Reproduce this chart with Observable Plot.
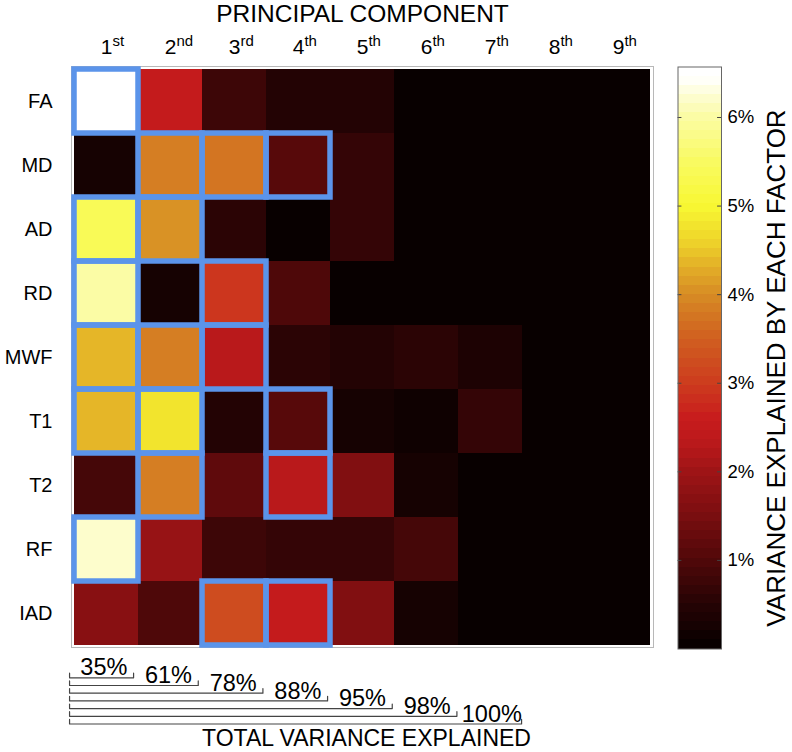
<!DOCTYPE html>
<html>
<head>
<meta charset="utf-8">
<script src="https://cdn.jsdelivr.net/npm/d3@7"></script>
<script src="https://cdn.jsdelivr.net/npm/@observablehq/plot@0.6"></script>
<style>
  body { margin: 0; background: #fff; }
  #wrap { position: relative; width: 792px; height: 752px; background: #fff; overflow: hidden; }
  #wrap svg { position: absolute; }
</style>
</head>
<body>
<div id="wrap"></div>
<script>
// ---- data ----
const PCS = ["1st", "2nd", "3rd", "4th", "5th", "6th", "7th", "8th", "9th"];
const PC_NUM = ["1", "2", "3", "4", "5", "6", "7", "8", "9"];
const PC_SUP = ["st", "nd", "rd", "th", "th", "th", "th", "th", "th"];
const FACTORS = ["FA", "MD", "AD", "RD", "MWF", "T1", "T2", "RF", "IAD"];

// variance explained (%) by each factor on each principal component
const FA_V  = [6.57, 2.50, 0.80, 0.47, 0.50, 0.06, 0.05, 0.04, 0.04];
const MD_V  = [0.25, 3.85, 3.75, 1.05, 0.65, 0.08, 0.05, 0.04, 0.04];
const AD_V  = [5.40, 4.05, 0.60, 0.07, 0.62, 0.06, 0.05, 0.04, 0.04];
const RD_V  = [6.05, 0.22, 2.90, 1.00, 0.03, 0.10, 0.06, 0.04, 0.04];
const MWF_V = [4.35, 3.80, 2.35, 0.60, 0.45, 0.55, 0.40, 0.05, 0.04];
const T1_V  = [4.35, 4.75, 0.42, 1.10, 0.30, 0.18, 0.62, 0.05, 0.04];
const T2_V  = [0.85, 3.90, 1.20, 2.30, 1.60, 0.28, 0.10, 0.04, 0.04];
const RF_V  = [6.25, 1.85, 0.80, 0.70, 0.65, 0.88, 0.08, 0.04, 0.04];
const IAD_V = [1.70, 1.00, 3.20, 2.55, 1.55, 0.25, 0.05, 0.04, 0.04];
const ROWS = [FA_V, MD_V, AD_V, RD_V, MWF_V, T1_V, T2_V, RF_V, IAD_V];

// cells outlined in blue
const HIGHLIGHT = [
  ["FA", "1st"],
  ["MD", "2nd"], ["MD", "3rd"], ["MD", "4th"],
  ["AD", "1st"], ["AD", "2nd"],
  ["RD", "1st"], ["RD", "3rd"],
  ["MWF", "1st"], ["MWF", "2nd"], ["MWF", "3rd"],
  ["T1", "1st"], ["T1", "2nd"], ["T1", "4th"],
  ["T2", "2nd"], ["T2", "4th"],
  ["RF", "1st"],
  ["IAD", "3rd"], ["IAD", "4th"]
];

// cumulative total variance explained
const CUMULATIVE = [35, 61, 78, 88, 95, 98, 100];

// colour bar
const VMAX = 6.57;
const CB_TICKS = [1, 2, 3, 4, 5, 6];
const N_LEVELS = 64;

// ---- colour map ("hot", as it appears in the figure) ----
const STOP_V = [0, 0.5, 1, 1.5, 2, 2.3, 2.6, 3, 3.5, 4, 4.3, 4.6, 5, 5.5, 6, 6.25, 6.45];
const STOP_C = ["#050000", "#260304", "#500809", "#7a0e10", "#9e1416", "#b9191b", "#c81c1d",
  "#cd3c1e", "#d05f20", "#d78c24", "#e2ae28", "#eed52a", "#f8f832", "#f9fa62", "#fbfca4", "#fdfdd4", "#ffffff"];
const cmap = d3.scaleLinear().domain(STOP_V).range(STOP_C).clamp(true);
const hotInterp = (t) => {
  const q = Math.min(N_LEVELS - 1, Math.max(0, Math.floor(t * N_LEVELS)));
  return cmap(((q + 0.5) / N_LEVELS) * VMAX);
};
const colorScale = { type: "linear", domain: [0, VMAX], interpolate: hotInterp };

// ---- tables ----
const cells = [];
FACTORS.forEach((f, i) => PCS.forEach((p, j) => cells.push({ factor: f, pc: p, value: ROWS[i][j] })));
const boxes = HIGHLIGHT.map(([f, p]) => ({ factor: f, pc: p }));
const bands = d3.range(N_LEVELS).map(i => ({
  lo: (i * VMAX) / N_LEVELS, hi: ((i + 1) * VMAX) / N_LEVELS, mid: ((i + 0.5) * VMAX) / N_LEVELS
}));
const brackets = [];
CUMULATIVE.forEach((c, i) => {
  const k = i + 1;
  brackets.push({ k, x: -0.03, y: k - 0.6 }, { k, x: -0.03, y: k }, { k, x: k - 0.04, y: k }, { k, x: k - 0.04, y: k - 0.6 });
});
const cumLabels = CUMULATIVE.map((c, i) => ({ k: i + 1, text: `${c}%` }));

const FONT = "'Liberation Sans', Arial, Helvetica, sans-serif";
const baseStyle = { background: "transparent", fontFamily: FONT, overflow: "visible", color: "#000" };
const wrap = document.getElementById("wrap");

// ---- main heat map ----
const main = Plot.plot({
  width: 792, height: 650,
  marginTop: 66, marginBottom: 3, marginLeft: 71, marginRight: 139,
  style: baseStyle,
  x: { domain: PCS, padding: 0, axis: null },
  y: { domain: FACTORS, padding: 0, axis: null },
  color: colorScale,
  marks: [
    Plot.cell(cells, { x: "pc", y: "factor", fill: "value", inset: 0, shapeRendering: "crispEdges" }),
    Plot.frame({ stroke: "#b8b8b8", strokeWidth: 1 }),
    Plot.cell(boxes, { x: "pc", y: "factor", fill: "none", stroke: "#5b94ea", strokeWidth: 5.5 }),
    Plot.text(PCS, { x: d => d, text: (d, i) => PC_NUM[i], frameAnchor: "top", lineAnchor: "bottom", dy: -12.5, fontSize: 21 }),
    Plot.text(PCS, { x: d => d, text: (d, i) => PC_SUP[i], frameAnchor: "top", lineAnchor: "bottom", textAnchor: "start", dx: 5.9, dy: -21, fontSize: 15 }),
    Plot.text(FACTORS, { y: d => d, text: d => d, frameAnchor: "left", textAnchor: "end", dx: -19, fontSize: 20 }),
    Plot.text(["PRINCIPAL COMPONENT"], { frameAnchor: "top", lineAnchor: "bottom", dy: -45, fontSize: 24.5 })
  ]
});
main.style.left = "0px"; main.style.top = "0px";
wrap.appendChild(main);

// ---- colour bar ----
const cbar = Plot.plot({
  width: 152, height: 752,
  marginTop: 66.5, marginBottom: 103.5, marginLeft: 37.5, marginRight: 71,
  style: baseStyle,
  x: { domain: [0, 1], axis: null },
  y: { domain: [0, VMAX], axis: null },
  color: colorScale,
  marks: [
    Plot.rect(bands, { y1: "lo", y2: "hi", fill: "mid", shapeRendering: "crispEdges" }),
    Plot.ruleY(CB_TICKS, { x1: 0, x2: 0.09, stroke: "#444", strokeWidth: 1 }),
    Plot.ruleY(CB_TICKS, { x1: 0.91, x2: 1, stroke: "#444", strokeWidth: 1 }),
    Plot.frame({ stroke: "#666", strokeWidth: 1 }),
    Plot.text(CB_TICKS, { y: d => d, text: d => `${d}%`, frameAnchor: "right", textAnchor: "start", dx: 6, fontSize: 18.5 }),
    Plot.text(["VARIANCE EXPLAINED BY EACH FACTOR"], { frameAnchor: "right", textAnchor: "middle", lineAnchor: "middle", rotate: -90, dx: 55, dy: 10, fontSize: 26 })
  ]
});
cbar.style.left = "640px"; cbar.style.top = "0px";
wrap.appendChild(cbar);

// ---- cumulative variance brackets ----
const brk = Plot.plot({
  width: 792, height: 105,
  marginTop: 30.3, marginBottom: 28.5, marginLeft: 71, marginRight: 139,
  style: baseStyle,
  x: { domain: [0, PCS.length], axis: null },
  y: { domain: [1, CUMULATIVE.length], reverse: true, axis: null },
  marks: [
    Plot.line(brackets, { x: "x", y: "y", z: "k", stroke: "#444", strokeWidth: 1.2, curve: "linear" }),
    Plot.text(cumLabels, { x: d => d.k - 0.5, y: d => d.k - 0.3, text: "text", lineAnchor: "bottom", fontSize: 23.5 }),
    Plot.text(["TOTAL VARIANCE EXPLAINED"], { frameAnchor: "bottom", lineAnchor: "bottom", dx: 4, dy: 21.5, fontSize: 23 })
  ]
});
brk.style.left = "0px"; brk.style.top = "647px";
wrap.appendChild(brk);
</script>
</body>
</html>
